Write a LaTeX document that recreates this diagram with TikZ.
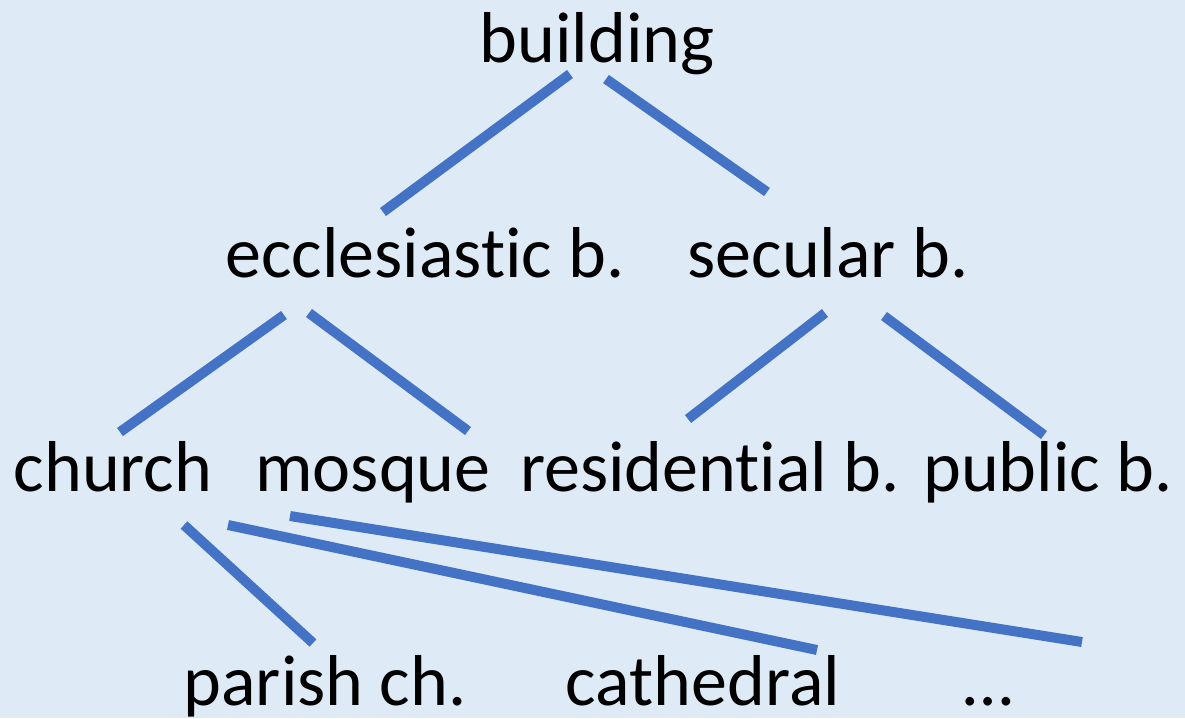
\documentclass[tikz,border=0pt]{standalone}
\usepackage{fontspec}
\setmainfont{Carlito}[Ligatures=NoCommon]
\usepackage{tikz}
\usetikzlibrary{positioning, calc}
\definecolor{bgblue}{RGB}{222, 235, 247}
\definecolor{linkblue}{RGB}{68, 114, 196}
\tikzset{
  term/.style={anchor=base, inner sep=0pt, font=\fontsize{41}{49}\selectfont},
  link/.style={draw=linkblue, line width=0.2cm}
}

\begin{document}
\begin{tikzpicture}[x=0.02cm, y=-0.02cm]
  \fill[bgblue] (0,0) rectangle (1185,718);
  \useasboundingbox (0,0) rectangle (1185,718);
  % terms
  \node[term] (building) at (597,62) {building};
  \node[term] (eccl) at (425,277) {ecclesiastic b.};
  \node[term] (secular) at (828,277) {secular b.};
  \node[term] (church) at (113,491) {church};
  \node[term] (mosque) at (373,491) {mosque};
  \node[term] (residential) at (710,491) {residential b.};
  \node[term] (public) at (1048,491) {public b.};
  \node[term] (parish) at (325,705) {parish ch.};
  \node[term] (cathedral) at (703,705) {cathedral};
  \node[term] (more) at (988,705) {…};
  % line ends
  \coordinate (building-l) at (570,74);
  \coordinate (building-r) at (606,79);
  \coordinate (eccl-up) at (383,212);
  \coordinate (secular-up) at (767,192);
  \coordinate (eccl-l) at (284,315);
  \coordinate (eccl-r) at (309,313);
  \coordinate (secular-l) at (825,313);
  \coordinate (secular-r) at (884,316);
  \coordinate (church-up) at (120,432);
  \coordinate (mosque-up) at (468,431);
  \coordinate (residential-up) at (688,419);
  \coordinate (public-up) at (1044,435);
  \coordinate (church-l) at (184,525);
  \coordinate (church-r) at (228,525);
  \coordinate (mosque-r) at (290,516);
  \coordinate (parish-up) at (313,643);
  \coordinate (cathedral-up) at (817,650);
  \coordinate (more-up) at (1082,642);
  % links
  \draw[link] (building-l) -- (eccl-up);
  \draw[link] (building-r) -- (secular-up);
  \draw[link] (eccl-l) -- (church-up);
  \draw[link] (eccl-r) -- (mosque-up);
  \draw[link] (secular-l) -- (residential-up);
  \draw[link] (secular-r) -- (public-up);
  \draw[link] (church-l) -- (parish-up);
  \draw[link] (church-r) -- (cathedral-up);
  \draw[link] (mosque-r) -- (more-up);
\end{tikzpicture}
\end{document}
